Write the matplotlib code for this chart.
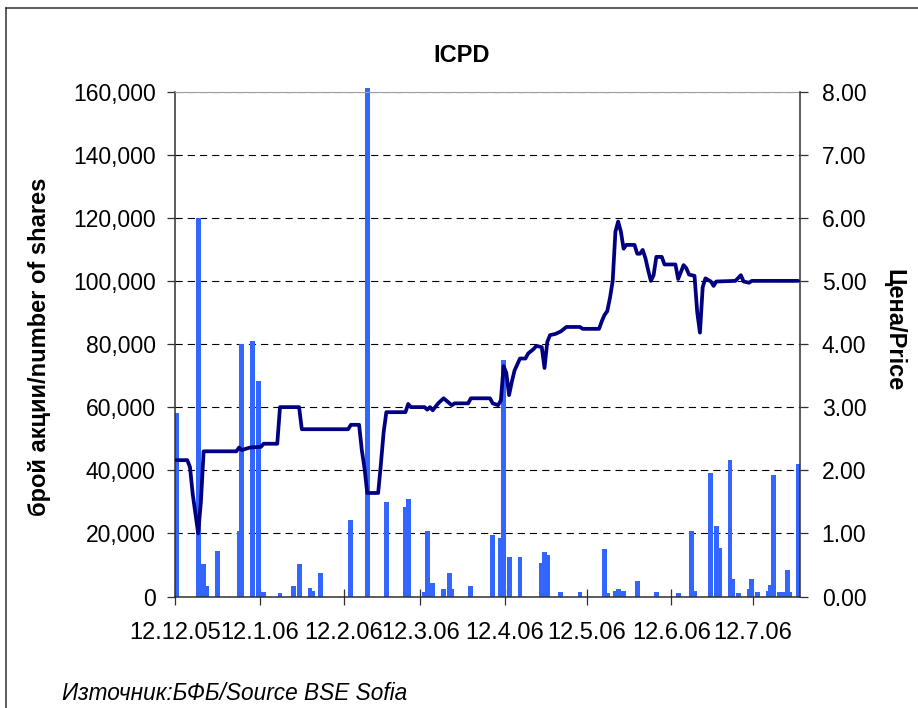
import datetime as dt

import matplotlib

matplotlib.use("Agg")
import matplotlib.dates as mdates
import matplotlib.pyplot as plt
from matplotlib.lines import Line2D
from matplotlib.ticker import FuncFormatter, MultipleLocator
from matplotlib.transforms import Bbox, TransformedBbox

# --- data -------------------------------------------------------------------
vol_dates = [
    "2005-12-12", "2005-12-20", "2005-12-22", "2005-12-23", "2005-12-27",
    "2006-01-04", "2006-01-05", "2006-01-09", "2006-01-11", "2006-01-13",
    "2006-01-19", "2006-01-24", "2006-01-26", "2006-01-30", "2006-01-31",
    "2006-02-03", "2006-02-14", "2006-02-20", "2006-02-27", "2006-03-06",
    "2006-03-07", "2006-03-13", "2006-03-14", "2006-03-16", "2006-03-20",
    "2006-03-22", "2006-03-23", "2006-03-30", "2006-04-07", "2006-04-10",
    "2006-04-11", "2006-04-13", "2006-04-17", "2006-04-25", "2006-04-26",
    "2006-04-27", "2006-05-02", "2006-05-09", "2006-05-18", "2006-05-19",
    "2006-05-22", "2006-05-23", "2006-05-25", "2006-05-30", "2006-06-06",
    "2006-06-14", "2006-06-19", "2006-06-20", "2006-06-26", "2006-06-28",
    "2006-06-29", "2006-07-03", "2006-07-04", "2006-07-06", "2006-07-10",
    "2006-07-11", "2006-07-13", "2006-07-17", "2006-07-18", "2006-07-19",
    "2006-07-21", "2006-07-23", "2006-07-24", "2006-07-25", "2006-07-28",
]
vol_values = [
    58000, 120000, 10300, 3300, 14400,
    20800, 80000, 81000, 68300, 1500,
    1000, 3400, 10300, 2600, 1700,
    7500, 24100, 161000, 30000, 28500,
    31000, 1500, 20700, 4400, 2400,
    7300, 2400, 3300, 19500, 18400,
    75000, 12600, 12600, 10700, 14200,
    13100, 1500, 1500, 15000, 1000,
    1800, 2500, 1800, 5000, 1500,
    1000, 20700, 1800, 39200, 22300,
    15500, 43200, 5400, 1000, 2400,
    5400, 1400, 1800, 3600, 38600,
    1300, 1300, 8400, 1500, 42100,
]

price_dates = [
    "2005-12-12", "2005-12-16", "2005-12-17", "2005-12-18", "2005-12-20",
    "2005-12-21", "2005-12-22", "2006-01-03", "2006-01-04", "2006-01-05",
    "2006-01-08", "2006-01-12", "2006-01-13", "2006-01-18", "2006-01-19",
    "2006-01-26", "2006-01-27", "2006-02-13", "2006-02-14", "2006-02-17",
    "2006-02-18", "2006-02-19", "2006-02-20", "2006-02-24", "2006-02-25",
    "2006-02-26", "2006-02-27", "2006-03-06", "2006-03-07", "2006-03-08",
    "2006-03-13", "2006-03-14", "2006-03-15", "2006-03-16", "2006-03-18",
    "2006-03-20", "2006-03-23", "2006-03-24", "2006-03-29", "2006-03-30",
    "2006-04-06", "2006-04-07", "2006-04-09", "2006-04-10", "2006-04-11",
    "2006-04-12", "2006-04-13", "2006-04-14", "2006-04-15", "2006-04-17",
    "2006-04-19", "2006-04-20", "2006-04-22", "2006-04-23", "2006-04-25",
    "2006-04-26", "2006-04-27", "2006-04-28", "2006-04-30", "2006-05-01",
    "2006-05-02", "2006-05-04", "2006-05-09", "2006-05-10", "2006-05-16",
    "2006-05-17", "2006-05-18", "2006-05-19", "2006-05-20", "2006-05-21",
    "2006-05-22", "2006-05-23", "2006-05-24", "2006-05-25", "2006-05-26",
    "2006-05-29", "2006-05-30", "2006-05-31", "2006-06-01", "2006-06-02",
    "2006-06-03", "2006-06-04", "2006-06-05", "2006-06-06", "2006-06-08",
    "2006-06-09", "2006-06-13", "2006-06-14", "2006-06-15", "2006-06-16",
    "2006-06-17", "2006-06-18", "2006-06-20", "2006-06-21", "2006-06-22",
    "2006-06-23", "2006-06-24", "2006-06-26", "2006-06-27", "2006-06-28",
    "2006-07-05", "2006-07-07", "2006-07-08", "2006-07-10", "2006-07-11",
    "2006-07-28",
]
price_values = [
    2.16, 2.16, 2.05, 1.62, 1.00,
    1.50, 2.30, 2.30, 2.36, 2.32,
    2.36, 2.37, 2.42, 2.42, 3.00,
    3.00, 2.65, 2.65, 2.72, 2.72,
    2.32, 2.03, 1.64, 1.64, 2.10,
    2.60, 2.92, 2.92, 3.05, 3.00,
    3.00, 2.96, 3.00, 2.95, 3.06,
    3.14, 3.03, 3.06, 3.06, 3.14,
    3.14, 3.06, 3.03, 3.11, 3.65,
    3.54, 3.19, 3.40, 3.58, 3.77,
    3.77, 3.85, 3.92, 3.97, 3.95,
    3.62, 4.03, 4.14, 4.16, 4.18,
    4.20, 4.27, 4.27, 4.24, 4.24,
    4.36, 4.46, 4.52, 4.73, 5.00,
    5.78, 5.94, 5.78, 5.51, 5.57,
    5.57, 5.43, 5.43, 5.49, 5.36,
    5.17, 5.00, 5.09, 5.38, 5.38,
    5.26, 5.26, 5.03, 5.14, 5.25,
    5.20, 5.10, 5.08, 4.50, 4.18,
    4.90, 5.04, 4.99, 4.92, 4.99,
    5.00, 5.09, 4.99, 4.97, 5.00,
    5.00,
]

tick_dates = ["2005-12-12", "2006-01-12", "2006-02-12", "2006-03-12",
              "2006-04-12", "2006-05-12", "2006-06-12", "2006-07-12"]
tick_labels = ["12.12.05", "12.1.06", "12.2.06", "12.3.06",
               "12.4.06", "12.5.06", "12.6.06", "12.7.06"]

first_day, last_day = "2005-12-12", "2006-07-28"

# --- style -------------------------------------------------------------------
_BAR = "#3366ff"
_LINE = "#000080"
_INK = "#000000"
_AXIS = "#303030"
plt.rcParams["font.family"] = ["Liberation Sans", "DejaVu Sans"]


def to_num(dates):
    return mdates.date2num([dt.datetime.fromisoformat(d) for d in dates])


def main():
    W, H = 918, 708
    fig = plt.figure(figsize=(W / 100, H / 100), dpi=100)
    left, right, top, bottom = 175, 799.5, 91.5, 596.5
    ax = fig.add_axes([left / W, 1 - bottom / H, (right - left) / W, (bottom - top) / H])

    # Excel puts each day's point in the middle of its slot
    xv = to_num(vol_dates) + 0.5
    xp = to_num(price_dates) + 0.5

    bars = ax.bar(xv, vol_values, width=1.8, color=_BAR, linewidth=0, zorder=2)
    clip = TransformedBbox(Bbox([[0, 0], [1, 1.02]]), ax.transAxes)
    for b in bars:
        b.set_clip_box(clip)

    ax.set_ylim(0, 160000)
    ax.set_xlim(to_num([first_day])[0], to_num([last_day])[0] + 1)
    ax.yaxis.set_major_locator(MultipleLocator(20000))
    ax.yaxis.set_major_formatter(FuncFormatter(lambda v, _: f"{v:,.0f}"))
    ax.set_xticks(to_num(tick_dates))
    ax.set_xticklabels(tick_labels)

    ax.set_axisbelow(True)
    ax.yaxis.grid(True, color=_INK, linewidth=0.8, linestyle=(0, (6.5, 4.5)))
    ax.xaxis.grid(False)

    ax.spines["top"].set_color("#a0a0a0")
    ax.spines["right"].set_visible(False)
    for side in ("left", "bottom"):
        ax.spines[side].set_color(_AXIS)
        ax.spines[side].set_linewidth(1.1)
    ax.tick_params(axis="y", direction="out", length=6, width=0.9, color=_AXIS,
                   labelsize=16.5, pad=8, labelcolor=_INK)
    ax.tick_params(axis="x", direction="inout", length=11, width=0.9, color=_AXIS,
                   labelsize=17, pad=13, labelcolor=_INK)

    ax2 = ax.twinx()
    ax2.plot(xp, price_values, color=_LINE, linewidth=2.7,
             solid_joinstyle="round", solid_capstyle="round", zorder=3)
    ax2.set_ylim(0, 8)
    ax2.yaxis.set_major_locator(MultipleLocator(1))
    ax2.yaxis.set_major_formatter(FuncFormatter(lambda v, _: f"{v:.2f}"))
    for side in ("left", "top", "bottom"):
        ax2.spines[side].set_visible(False)
    ax2.spines["right"].set_color(_AXIS)
    ax2.spines["right"].set_linewidth(1.1)
    ax2.tick_params(axis="y", direction="out", length=6, width=0.9, color=_AXIS,
                    labelsize=16.5, pad=10, labelcolor=_INK)

    # titles and notes
    fig.text(462 / W, 1 - 55 / H, "ICPD", ha="center", va="center",
             fontsize=17, fontweight="bold", color=_INK)
    fig.text(40 / W, 1 - 347 / H, "брой акции/number of shares", rotation=90,
             ha="center", va="center", fontsize=17, fontweight="bold", color=_INK)
    fig.text(894 / W, 1 - 330 / H, "Цена/Price", rotation=-90,
             ha="center", va="center", fontsize=17, fontweight="bold", color=_INK)
    fig.text(62 / W, 1 - 693 / H, "Източник:БФБ/Source BSE Sofia",
             ha="left", va="center", fontsize=16.3, style="italic", color=_INK)

    # chart-area frame (only left and top edges fall inside the image)
    fx, fy = 5.5 / W, 1 - 7.5 / H
    fig.add_artist(Line2D([fx, fx], [0, fy], color=_AXIS, linewidth=1.1))
    fig.add_artist(Line2D([fx, 1], [fy, fy], color=_AXIS, linewidth=1.1))

    fig.savefig("out.png", dpi=100, facecolor="white")
    plt.close(fig)


if __name__ == "__main__":
    main()
